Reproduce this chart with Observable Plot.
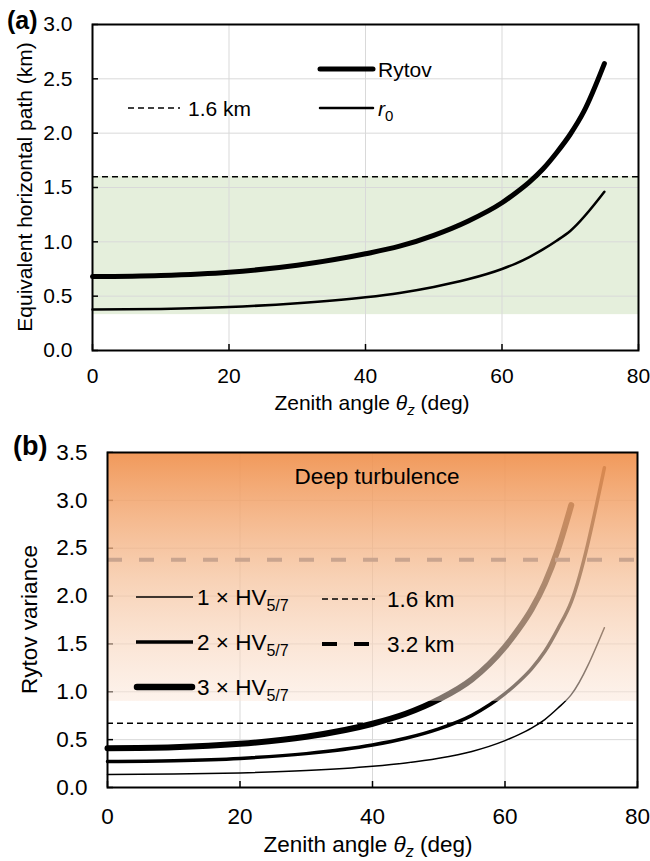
<!DOCTYPE html>
<html>
<head>
<meta charset="utf-8">
<script src="https://cdn.jsdelivr.net/npm/d3@7"></script>
<script src="https://cdn.jsdelivr.net/npm/@observablehq/plot@0.6"></script>
<style>
  html, body { margin: 0; padding: 0; background: #fff; }
  #wrap { width: 650px; }
  #wrap svg { display: block; }
</style>
</head>
<body>
<div id="wrap"></div>
<script>
// ---------------- data ----------------
const xTicks = [0, 20, 40, 60, 80];
const xGrid = [20, 40, 60];
const yTicksA = [0, 0.5, 1, 1.5, 2, 2.5, 3];
const yTicksB = [0, 0.5, 1, 1.5, 2, 2.5, 3, 3.5];

// panel (a)
const anglesRytovA = [0, 10, 20, 30, 40, 45, 50, 55, 60, 62, 64, 66, 68, 70, 72, 75];
const rytovA       = [0.68, 0.69, 0.72, 0.785, 0.89, 0.96, 1.06, 1.19, 1.36, 1.45, 1.55, 1.67, 1.82, 1.99, 2.2, 2.64];
const anglesR0A    = [0, 10, 20, 30, 40, 45, 50, 55, 60, 62, 64, 66, 68, 70, 75];
const r0A          = [0.377, 0.383, 0.40, 0.435, 0.49, 0.53, 0.585, 0.655, 0.75, 0.80, 0.86, 0.93, 1.01, 1.10, 1.46];
const greenBandA   = [0.33, 1.6];
const dashA        = [1.6];

// panel (b)
const anglesB  = [0, 10, 20, 30, 40, 45, 50, 55, 60, 62, 64, 66, 68, 70, 75];
const hv1      = [0.136, 0.14, 0.152, 0.177, 0.222, 0.257, 0.306, 0.377, 0.49, 0.55, 0.62, 0.71, 0.83, 0.97, 1.67];
const hv2      = [0.272, 0.28, 0.304, 0.354, 0.444, 0.514, 0.612, 0.754, 0.98, 1.10, 1.24, 1.42, 1.66, 1.94, 3.34];
const angles3  = [0, 10, 20, 30, 40, 45, 50, 55, 60, 62, 64, 66, 68, 70];
const hv3      = [0.41, 0.42, 0.456, 0.53, 0.666, 0.77, 0.92, 1.13, 1.47, 1.65, 1.86, 2.13, 2.49, 2.95];
const deepBandB = [0.9, 3.5];
const dash16B  = [0.67];
const dash32B  = [2.38];
const xDomain = [0, 80];

// --------------- helpers ---------------
const FONT = "'Liberation Sans', Arial, Helvetica, sans-serif";
const FSA = 21;
const FSB = 22.5;
const toRows = (xs, ys) => xs.map((x, i) => ({x, y: ys[i]}));

function rich(svg, x, y, parts, o = {}) {
  const t = d3.select(svg).append("text")
    .attr("x", x).attr("y", y)
    .attr("font-family", FONT)
    .attr("font-size", o.size || FSA)
    .attr("text-anchor", o.anchor || "start")
    .attr("fill", "#000")
    .attr("stroke", "none");
  if (o.bold) t.attr("font-weight", "bold");
  if (o.rotate) t.attr("transform", `rotate(${o.rotate},${x},${y})`);
  let shift = 0;
  for (const p of parts) {
    const s = t.append("tspan").text(p.t);
    const target = p.sub ? (p.shift ?? 5) : 0;
    if (target !== shift) { s.attr("dy", target - shift); shift = target; }
    if (p.italic) s.attr("font-style", "italic");
    if (p.size) s.attr("font-size", p.size);
  }
  return t;
}
function seg(svg, x1, x2, y, w, dash, color = "#000", cap = "butt") {
  const l = d3.select(svg).append("line")
    .attr("x1", x1).attr("x2", x2).attr("y1", y).attr("y2", y)
    .attr("stroke", color).attr("stroke-width", w).attr("stroke-linecap", cap);
  if (dash) l.attr("stroke-dasharray", dash);
}

const wrap = document.getElementById("wrap");
const styleA = {fontFamily: FONT, fontSize: FSA + "px", background: "transparent", overflow: "visible"};
const styleB = {fontFamily: FONT, fontSize: FSB + "px", background: "transparent", overflow: "visible"};

// --------------- panel (a) ---------------
const plotA = Plot.plot({
  width: 650, height: 415,
  marginLeft: 92, marginRight: 12, marginTop: 24, marginBottom: 65,
  style: styleA,
  x: {domain: xDomain, label: null},
  y: {domain: [0, 3], label: null},
  marks: [
    Plot.rect([greenBandA], {x1: () => xDomain[0], x2: () => xDomain[1], y1: d => d[0], y2: d => d[1], fill: "#e5efdc"}),
    Plot.gridX(xGrid, {stroke: "#d9d9d9", strokeOpacity: 1, strokeWidth: 1}),
    Plot.gridY(yTicksA, {stroke: "#d9d9d9", strokeOpacity: 1, strokeWidth: 1}),
    Plot.axisX(xTicks, {tickSize: -6, tickFormat: () => "", label: null, strokeWidth: 1.5}),
    Plot.axisY(yTicksA, {tickSize: -6, tickFormat: () => "", label: null, strokeWidth: 1.5}),
    Plot.axisX(xTicks, {tickSize: 0, tickPadding: 18, label: null, fontSize: FSA, tickFormat: d3.format("d")}),
    Plot.axisY(yTicksA, {tickSize: 0, tickPadding: 20, label: null, fontSize: FSA, tickFormat: d3.format(".1f")}),
    Plot.ruleY(dashA, {stroke: "#000", strokeWidth: 1.5, strokeDasharray: "6,4"}),
    Plot.line(toRows(anglesR0A, r0A), {x: "x", y: "y", stroke: "#000", strokeWidth: 2.5, curve: "monotone-x", strokeLinecap: "round"}),
    Plot.line(toRows(anglesRytovA, rytovA), {x: "x", y: "y", stroke: "#000", strokeWidth: 5, curve: "monotone-x", strokeLinecap: "round"}),
    Plot.frame({stroke: "#000", strokeWidth: 2})
  ]
});
wrap.appendChild(plotA);
rich(plotA, 7, 29, [{t: "(a)"}], {bold: true, size: 25});
rich(plotA, 372, 410, [{t: "Zenith angle "}, {t: "θ", italic: true}, {t: "z", italic: true, sub: true, size: 15, shift: 5}, {t: " (deg)"}], {anchor: "middle"});
rich(plotA, 32, 187, [{t: "Equivalent horizontal path (km)"}], {anchor: "middle", rotate: -90});
// legend (a)
seg(plotA, 320, 373, 69, 5, null, "#000", "round");
rich(plotA, 378, 76.5, [{t: "Rytov"}]);
seg(plotA, 320, 373, 108, 2.5, null, "#000", "round");
rich(plotA, 378, 115.5, [{t: "r", italic: true}, {t: "0", sub: true, size: 15, shift: 5}]);
seg(plotA, 128, 180, 108, 1.5, "6,4");
rich(plotA, 188, 115.5, [{t: "1.6 km"}]);

// --------------- panel (b) ---------------
const plotB = Plot.plot({
  width: 650, height: 446,
  marginLeft: 107, marginRight: 13, marginTop: 37, marginBottom: 74,
  style: styleB,
  x: {domain: xDomain, label: null},
  y: {domain: [0, 3.5], label: null},
  marks: [
    Plot.gridX(xGrid, {stroke: "#d9d9d9", strokeOpacity: 1, strokeWidth: 1}),
    Plot.gridY(yTicksB, {stroke: "#d9d9d9", strokeOpacity: 1, strokeWidth: 1}),
    Plot.axisX(xTicks, {tickSize: -6, tickFormat: () => "", label: null, strokeWidth: 1.5}),
    Plot.axisY(yTicksB, {tickSize: -6, tickFormat: () => "", label: null, strokeWidth: 1.5}),
    Plot.axisX(xTicks, {tickSize: 0, tickPadding: 21, label: null, fontSize: FSB, tickFormat: d3.format("d")}),
    Plot.axisY(yTicksB, {tickSize: 0, tickPadding: 20, label: null, fontSize: FSB, tickFormat: d3.format(".1f")}),
    Plot.ruleY(dash16B, {stroke: "#000", strokeWidth: 1.5, strokeDasharray: "6,4"}),
    Plot.line(toRows(anglesB, hv1), {x: "x", y: "y", stroke: "#000", strokeWidth: 1.5, curve: "monotone-x", strokeLinecap: "round"}),
    Plot.line(toRows(anglesB, hv2), {x: "x", y: "y", stroke: "#000", strokeWidth: 3.5, curve: "monotone-x", strokeLinecap: "round"}),
    Plot.line(toRows(angles3, hv3), {x: "x", y: "y", stroke: "#000", strokeWidth: 6, curve: "monotone-x", strokeLinecap: "round"}),
    Plot.rect([deepBandB], {x1: () => xDomain[0], x2: () => xDomain[1], y1: d => d[0], y2: d => d[1], fill: "url(#deepGrad)"}),
    Plot.ruleY(dash32B, {stroke: "#c9a48e", strokeWidth: 4, strokeDasharray: "15,17"}),
    Plot.frame({stroke: "#000", strokeWidth: 2})
  ]
});
wrap.appendChild(plotB);
{
  const defs = d3.select(plotB).insert("defs", ":first-child");
  const g = defs.append("linearGradient").attr("id", "deepGrad")
    .attr("x1", 0).attr("y1", 0).attr("x2", 0).attr("y2", 1);
  g.append("stop").attr("offset", "0").attr("stop-color", "#f0914e").attr("stop-opacity", 0.93);
  g.append("stop").attr("offset", "0.5").attr("stop-color", "#f5bf97").attr("stop-opacity", 0.72);
  g.append("stop").attr("offset", "1").attr("stop-color", "#fbe6d8").attr("stop-opacity", 0.5);
}
rich(plotB, 13, 40, [{t: "(b)"}], {bold: true, size: 27});
rich(plotB, 368, 437, [{t: "Zenith angle "}, {t: "θ", italic: true}, {t: "z", italic: true, sub: true, size: 16, shift: 5}, {t: " (deg)"}], {anchor: "middle", size: FSB});
rich(plotB, 37, 204.5, [{t: "Rytov variance"}], {anchor: "middle", rotate: -90, size: FSB});
rich(plotB, 377, 69, [{t: "Deep turbulence"}], {anchor: "middle", size: FSB});
// legend (b)
seg(plotB, 136, 193, 182, 1.5);
rich(plotB, 197, 190, [{t: "1 × HV", }, {t: "5/7", sub: true, size: 16, shift: 6}], {size: FSB});
seg(plotB, 136, 193, 227, 3.5);
rich(plotB, 197, 235, [{t: "2 × HV"}, {t: "5/7", sub: true, size: 16, shift: 6}], {size: FSB});
seg(plotB, 137, 192, 272, 6.5, null, "#000", "round");
rich(plotB, 197, 280, [{t: "3 × HV"}, {t: "5/7", sub: true, size: 16, shift: 6}], {size: FSB});
seg(plotB, 322, 375, 184, 1.5, "6,4");
rich(plotB, 387, 191.5, [{t: "1.6 km"}], {size: FSB});
seg(plotB, 322, 370, 229, 4, "15,17");
rich(plotB, 387, 236.5, [{t: "3.2 km"}], {size: FSB});
</script>
</body>
</html>
